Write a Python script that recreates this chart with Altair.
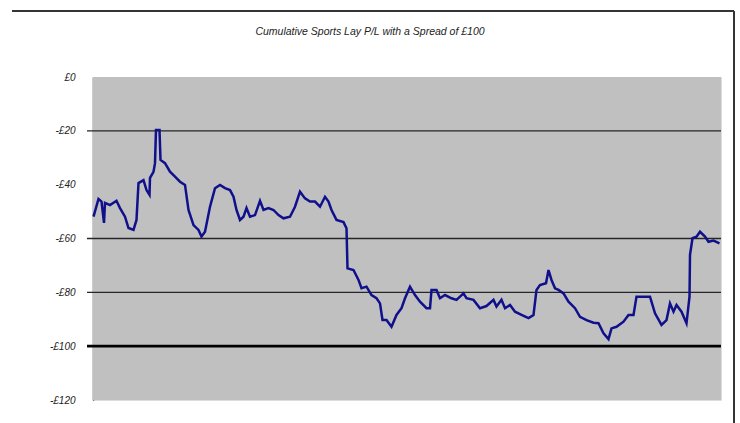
import altair as alt
import pandas as pd

# Cumulative profit/loss series (bet number, £)
bet_no = [1, 11, 17, 22, 24, 34, 47, 54, 64, 71, 81, 87, 91, 101, 107, 113, 114, 121, 124, 126,
          133, 135, 144, 154, 164, 174, 184, 191, 201, 211, 217, 224, 234, 244, 254, 264, 274, 281, 287, 294,
          301, 307, 314, 324, 334, 341, 351, 361, 371, 381, 394, 404, 414, 424, 434, 444, 454, 464, 471, 477,
          487, 501, 507, 509, 521, 531, 537, 547, 557, 567, 574, 579, 587, 597, 607, 617, 624, 634, 644, 654,
          667, 674, 677, 687, 694, 704, 717, 727, 741, 747, 761, 774, 787, 801, 807, 817, 824, 834, 844, 857,
          871, 881, 887, 894, 906, 911, 917, 924, 931, 941, 951, 964, 974, 987, 1001, 1011, 1021, 1031, 1037, 1047,
          1061, 1071, 1081, 1087, 1101, 1114, 1124, 1137, 1147, 1154, 1161, 1167, 1177, 1187, 1193, 1194, 1199, 1207, 1214, 1224,
          1231, 1241, 1253]
profit = [-51.9, -45.3, -46.3, -54.2, -46.8, -47.6, -46.0, -48.7, -51.9, -56.1, -56.8, -53.1, -39.4, -38.3, -42.0, -43.8, -37.5, -35.2, -32.0, -19.7,
          -19.7, -30.8, -32.0, -35.2, -37.0, -38.9, -40.1, -49.4, -55.0, -56.8, -59.3, -57.5, -48.2, -41.3, -40.1, -41.3, -42.0, -44.5, -49.4, -53.1,
          -51.9, -48.7, -51.9, -51.3, -46.0, -49.4, -48.7, -49.4, -51.3, -52.5, -51.9, -48.2, -42.6, -45.1, -46.3, -46.3, -48.2, -44.5, -46.3, -49.4,
          -53.1, -53.9, -56.2, -71.1, -71.7, -75.4, -78.5, -77.9, -81.0, -82.2, -84.1, -90.3, -90.3, -92.8, -88.4, -85.9, -82.2, -77.9, -81.0, -83.5,
          -85.9, -85.9, -79.1, -79.1, -82.2, -81.0, -82.2, -82.8, -80.4, -82.2, -82.8, -85.9, -85.1, -82.8, -85.3, -82.8, -85.9, -84.7, -87.2, -88.4,
          -89.6, -88.4, -79.1, -77.3, -76.6, -71.7, -75.4, -78.5, -79.1, -80.4, -83.5, -85.9, -89.1, -90.3, -91.3, -91.5, -95.2, -97.4, -93.4, -92.8,
          -90.9, -88.4, -88.4, -81.6, -81.6, -81.6, -87.8, -92.1, -90.3, -84.1, -87.2, -84.7, -87.2, -91.5, -81.6, -66.1, -59.9, -59.3, -57.5, -59.3,
          -61.2, -60.8, -61.8]

tick_values = [0, -20, -40, -60, -80, -100, -120]
grid_values = [-20, -60, -80]
thick_value = [-100]
title_text = ["Cumulative Sports Lay P/L with a Spread of £100"]

W, H = 628, 323

df = pd.DataFrame({"bet": bet_no, "profit": profit})
grid_df = pd.DataFrame({"v": grid_values})
thick_df = pd.DataFrame({"v": thick_value})
title_df = pd.DataFrame({"t": title_text})

yscale = alt.Scale(domain=[-120, 0], nice=False, zero=False)
xscale = alt.Scale(domain=[0, 1256], nice=False, zero=False)

bg = alt.Chart(title_df).mark_rect(color="#c0c0c0").encode(
    x=alt.value(0), x2=alt.value(W), y=alt.value(0), y2=alt.value(H))

line = alt.Chart(df).mark_line(color="#10108c", strokeWidth=2.5, interpolate="linear").encode(
    x=alt.X("bet:Q", scale=xscale, axis=None),
    y=alt.Y("profit:Q", scale=yscale, axis=alt.Axis(
        values=tick_values,
        labelExpr="datum.value == 0 ? '£0' : '-£' + abs(datum.value)",
        ticks=False, grid=False, domain=True, domainColor="#333333", domainWidth=1.5,
        labelFont="Liberation Sans", labelFontSize=10, labelFontStyle="italic",
        labelColor="#222222", labelPadding=18, title=None)),
)

grid = alt.Chart(grid_df).mark_rule(color="#262626", strokeWidth=1.3).encode(
    y=alt.Y("v:Q", scale=yscale),
    x=alt.value(-6), x2=alt.value(W),
)
thick = alt.Chart(thick_df).mark_rule(color="#000000", strokeWidth=2.6).encode(
    y=alt.Y("v:Q", scale=yscale),
    x=alt.value(-6), x2=alt.value(W),
)

frame_top = alt.Chart(grid_df).mark_rule(color="#333333", strokeWidth=1.5).encode(
    x=alt.value(-81), x2=alt.value(641), y=alt.value(-66))
frame_right = alt.Chart(grid_df).mark_rule(color="#333333", strokeWidth=1.5).encode(
    x=alt.value(641), y=alt.value(-66), y2=alt.value(360))

title = alt.Chart(title_df).mark_text(
    font="Liberation Sans", fontSize=10.5, fontStyle="italic", color="#222222",
    align="center", baseline="middle").encode(
    text="t:N", x=alt.value(277), y=alt.value(-45))

chart = alt.layer(bg, grid, thick, line, frame_top, frame_right, title).properties(
    width=W, height=H,
    autosize=alt.AutoSizeParams(type="none"),
    padding={"left": 93, "top": 77, "right": 19, "bottom": 23},
).configure_view(stroke=None).configure(background="white")

chart.save("out.html", embed_options={"renderer": "svg", "actions": False})
